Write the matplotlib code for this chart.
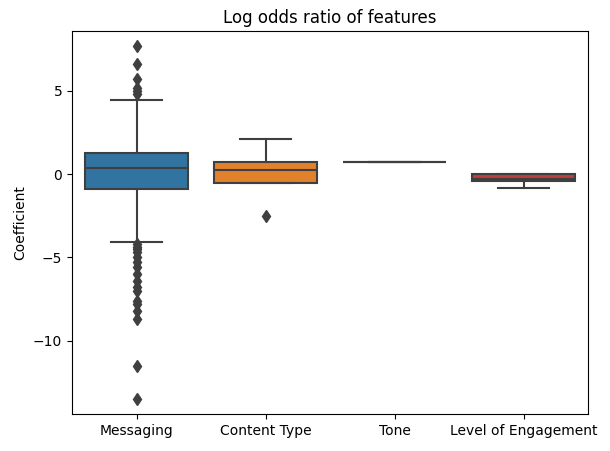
import matplotlib
matplotlib.use("Agg")
import matplotlib.pyplot as plt

categories = ["Messaging", "Content Type", "Tone", "Level of Engagement"]
q1 = [-0.9, -0.5, 0.75, -0.42]
med = [0.35, 0.25, 0.75, -0.28]
q3 = [1.3, 0.75, 0.75, 0.0]
wlo = [-4.1, -0.5, 0.75, -0.8]
whi = [4.45, 2.1, 0.75, 0.0]
fliers = [
    [7.7, 6.6, 5.7, 5.2, 5.0, 4.8, -4.2, -4.35, -4.5, -4.65, -5.0, -5.3, -5.6,
     -6.0, -6.4, -6.8, -7.0, -7.6, -7.8, -8.2, -8.7, -11.5, -13.5],
    [-2.5],
    [],
    [],
]
colors = ["#3274a1", "#e1812c", "#3a923a", "#c03d3e"]
line = "#3f3f3f"

fig = plt.figure(figsize=(6.1, 4.51), dpi=100)
ax = fig.add_axes([72/610, 37/451, 516/610, 383/451])
stats = [dict(q1=a, med=m, q3=b, whislo=l, whishi=h, fliers=f, label=c)
         for a, m, b, l, h, f, c in zip(q1, med, q3, wlo, whi, fliers, categories)]
bp = ax.bxp(stats, positions=range(4), widths=0.8, patch_artist=True,
            boxprops=dict(edgecolor=line, linewidth=1.5),
            medianprops=dict(color=line, linewidth=1.5),
            whiskerprops=dict(color=line, linewidth=1.5),
            capprops=dict(color=line, linewidth=1.5),
            flierprops=dict(marker="d", markerfacecolor=line, markeredgecolor=line, markersize=6))
for p, c in zip(bp["boxes"], colors):
    p.set_facecolor(c)
for cap in bp["caps"]:
    x = cap.get_xdata()
    mid = (x[0] + x[1]) / 2
    cap.set_xdata([mid - 0.2, mid + 0.2])
ax.set_xlim(-0.5, 3.5)
ax.set_ylim(-14.4, 8.6)
ax.set_xticks(range(4))
ax.set_xticklabels(categories)
ax.set_ylabel("Coefficient")
ax.set_title("Log odds ratio of features")
fig.savefig("out.png")
